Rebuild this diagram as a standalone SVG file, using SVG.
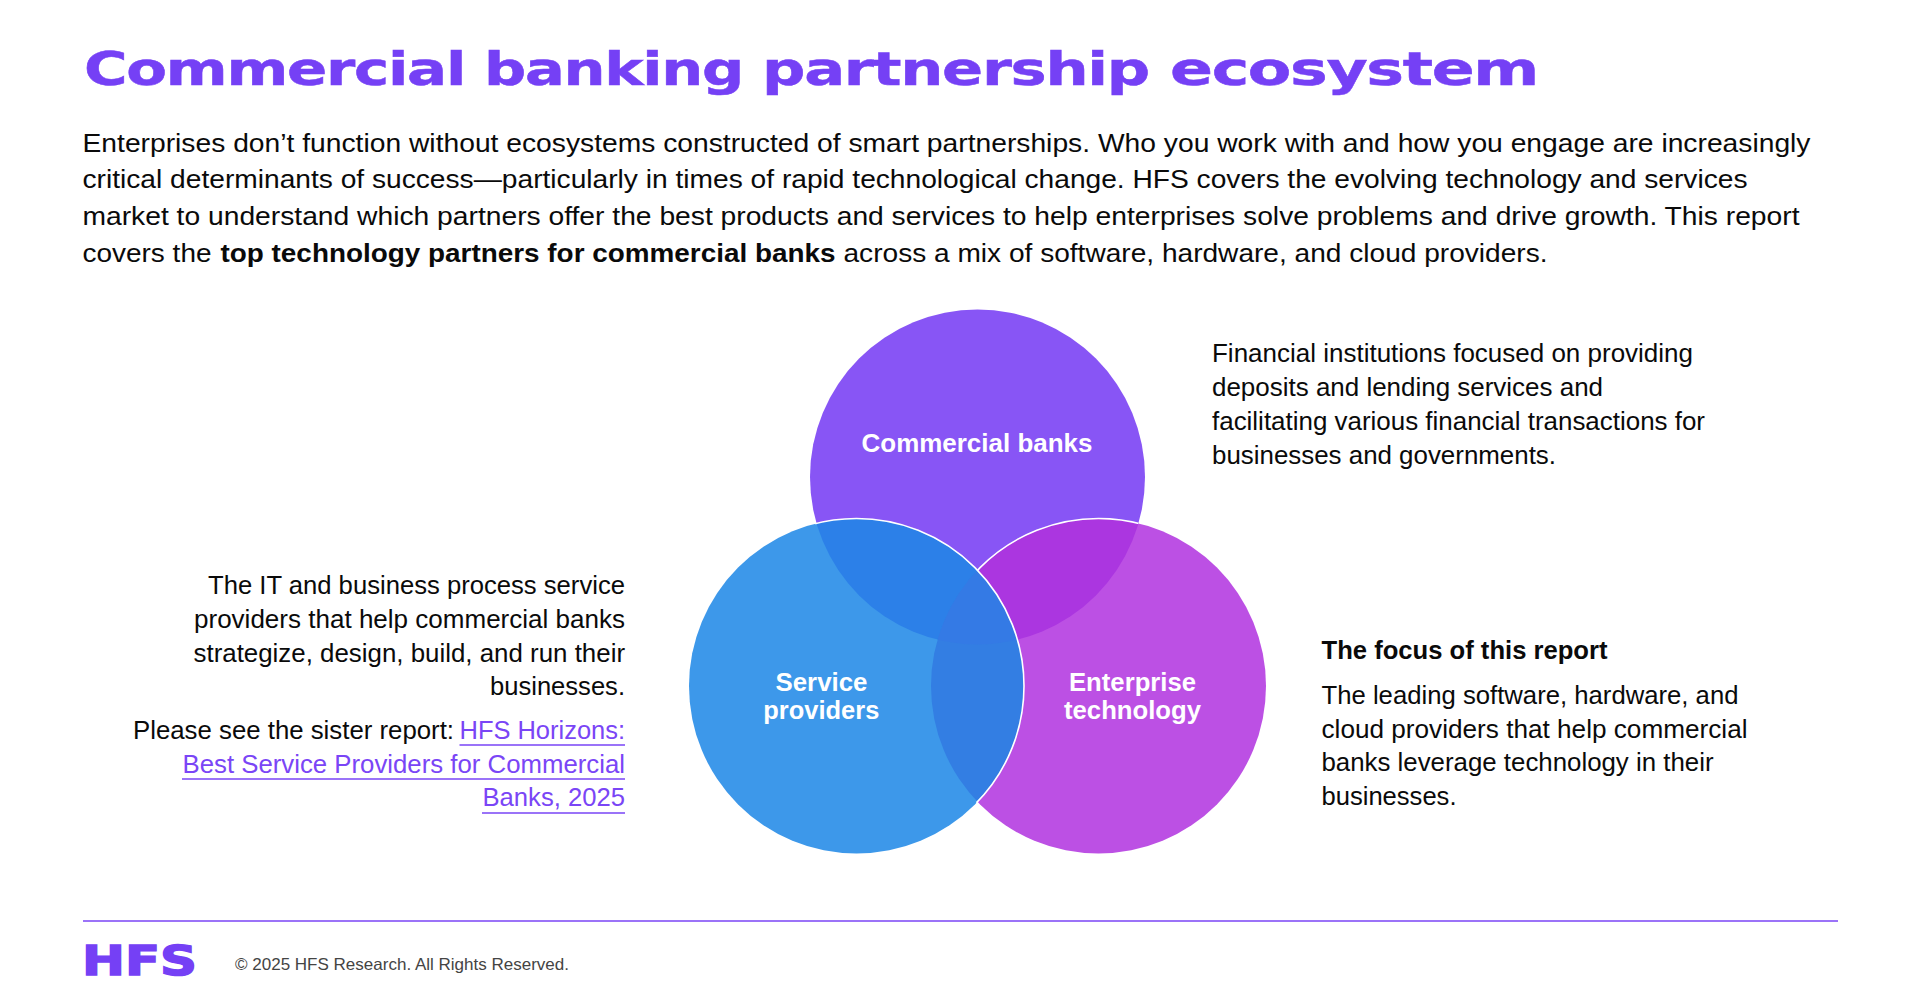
<svg xmlns="http://www.w3.org/2000/svg" width="1920" height="1002" viewBox="0 0 1920 1002">
<style>
text{font-family:"Liberation Sans",Arial,sans-serif;fill:#0a0a0a;font-size:26px}
.b{font-weight:700}
.m{font-size:25px}
.l{fill:#7a45f6}
.lab{font-weight:700;font-size:26px;fill:#fff}
.u{stroke:#7a45f6;stroke-width:1.6;fill:none}
.arc{fill:none;stroke:#fff;stroke-width:1.6}
</style>
<defs>
<clipPath id="cT"><circle cx="977.5" cy="477" r="167.5"/></clipPath>
<clipPath id="cB"><circle cx="856.5" cy="686" r="167.5"/></clipPath>
<clipPath id="cP"><circle cx="1098.5" cy="686" r="167.5"/></clipPath>
<clipPath id="cTP"><circle cx="977.5" cy="477" r="169"/><circle cx="1098.5" cy="686" r="169"/></clipPath>
</defs>
<rect width="1920" height="1002" fill="#fff"/>
<g id="header">
<text x="83" y="85" letter-spacing="-1" style="font-family:'DejaVu Sans',sans-serif;font-weight:700;font-size:47px;fill:#7540f5;stroke:#7540f5;stroke-width:0.5"><tspan x="84" textLength="381" lengthAdjust="spacingAndGlyphs">Commercial</tspan> <tspan x="484" textLength="259" lengthAdjust="spacingAndGlyphs">banking</tspan> <tspan x="762" textLength="387" lengthAdjust="spacingAndGlyphs">partnership</tspan> <tspan x="1170" textLength="368" lengthAdjust="spacingAndGlyphs">ecosystem</tspan></text>
<text x="82.5" y="152" textLength="1728" lengthAdjust="spacingAndGlyphs">Enterprises don’t function without ecosystems constructed of smart partnerships. Who you work with and how you engage are increasingly</text>
<text x="82.5" y="188" textLength="1665" lengthAdjust="spacingAndGlyphs">critical determinants of success—particularly in times of rapid technological change. HFS covers the evolving technology and services</text>
<text x="82.5" y="225" textLength="1717" lengthAdjust="spacingAndGlyphs">market to understand which partners offer the best products and services to help enterprises solve problems and drive growth. This report</text>
<text x="82.5" y="261.5" textLength="129" lengthAdjust="spacingAndGlyphs">covers the</text>
<text class="b" x="220.5" y="261.5" textLength="615" lengthAdjust="spacingAndGlyphs">top technology partners for commercial banks</text>
<text x="843.5" y="261.5" textLength="704" lengthAdjust="spacingAndGlyphs">across a mix of software, hardware, and cloud providers.</text>
</g>
<g id="venn">
<g id="node-commercial-banks"><circle cx="977.5" cy="477" r="167.5" fill="#8855f5"/></g>
<g id="node-enterprise-technology">
<circle cx="1098.5" cy="686" r="167.5" fill="#bc50e4"/>
<circle cx="1098.5" cy="686" r="167.5" fill="#ab36e0" clip-path="url(#cT)"/>
<circle class="arc" cx="1098.5" cy="686" r="167.5" clip-path="url(#cT)"/>
</g>
<g id="node-service-providers">
<circle cx="856.5" cy="686" r="167.5" fill="#3d98ea"/>
<circle cx="856.5" cy="686" r="167.5" fill="#2c80e8" clip-path="url(#cT)"/>
<circle cx="856.5" cy="686" r="167.5" fill="#337ee3" clip-path="url(#cP)"/>
<g clip-path="url(#cP)"><circle cx="856.5" cy="686" r="167.5" fill="#347ae5" clip-path="url(#cT)"/></g>
<circle class="arc" cx="856.5" cy="686" r="167.5" clip-path="url(#cTP)"/>
</g>
<text class="lab" x="861.5" y="452" textLength="231" lengthAdjust="spacingAndGlyphs">Commercial banks</text>
<text class="lab" x="775.5" y="691" textLength="92" lengthAdjust="spacingAndGlyphs">Service</text>
<text class="lab" x="763.3" y="719" textLength="116" lengthAdjust="spacingAndGlyphs">providers</text>
<text class="lab" x="1069" y="691" textLength="127" lengthAdjust="spacingAndGlyphs">Enterprise</text>
<text class="lab" x="1064" y="719" textLength="137" lengthAdjust="spacingAndGlyphs">technology</text>
</g>
<g id="desc-commercial">
<text class="m" x="1212" y="362" textLength="481" lengthAdjust="spacingAndGlyphs">Financial institutions focused on providing</text>
<text class="m" x="1212" y="396" textLength="391" lengthAdjust="spacingAndGlyphs">deposits and lending services and</text>
<text class="m" x="1212" y="429.5" textLength="493" lengthAdjust="spacingAndGlyphs">facilitating various financial transactions for</text>
<text class="m" x="1212" y="463.5" textLength="344" lengthAdjust="spacingAndGlyphs">businesses and governments.</text>
</g>
<g id="desc-focus">
<text class="m b" x="1321.5" y="659" textLength="286" lengthAdjust="spacingAndGlyphs">The focus of this report</text>
<text class="m" x="1321.5" y="703.5" textLength="417" lengthAdjust="spacingAndGlyphs">The leading software, hardware, and</text>
<text class="m" x="1321.5" y="737.5" textLength="426" lengthAdjust="spacingAndGlyphs">cloud providers that help commercial</text>
<text class="m" x="1321.5" y="771" textLength="392" lengthAdjust="spacingAndGlyphs">banks leverage technology in their</text>
<text class="m" x="1321.5" y="804.5" textLength="135" lengthAdjust="spacingAndGlyphs">businesses.</text>
</g>
<g id="desc-providers">
<text class="m" x="208" y="594" textLength="417" lengthAdjust="spacingAndGlyphs">The IT and business process service</text>
<text class="m" x="194" y="627.5" textLength="431" lengthAdjust="spacingAndGlyphs">providers that help commercial banks</text>
<text class="m" x="193.5" y="661.5" textLength="431.5" lengthAdjust="spacingAndGlyphs">strategize, design, build, and run their</text>
<text class="m" x="490" y="695" textLength="135" lengthAdjust="spacingAndGlyphs">businesses.</text>
<text class="m" x="133" y="739" textLength="321" lengthAdjust="spacingAndGlyphs">Please see the sister report:</text>
<text class="m l" x="459.5" y="739" textLength="165.5" lengthAdjust="spacingAndGlyphs">HFS Horizons:</text>
<text class="m l" x="182.5" y="772.5" textLength="442.5" lengthAdjust="spacingAndGlyphs">Best Service Providers for Commercial</text>
<text class="m l" x="482.5" y="806" textLength="142.5" lengthAdjust="spacingAndGlyphs">Banks, 2025</text>
<path class="u" d="M459.5 745H625M182 779H625M482 813H625"/>
</g>
<g id="footer">
<line x1="83" y1="921" x2="1838" y2="921" stroke="#7a45f6" stroke-width="1.6"/>
<text x="82" y="974.5" textLength="115" lengthAdjust="spacingAndGlyphs" style="font-family:'DejaVu Sans',sans-serif;font-weight:700;font-size:41px;fill:#7540f5;stroke:#7540f5;stroke-width:1.5">HFS</text>
<text x="235" y="969.5" textLength="334" lengthAdjust="spacingAndGlyphs" style="font-size:16.5px;fill:#444">© 2025 HFS Research. All Rights Reserved.</text>
</g>
</svg>
